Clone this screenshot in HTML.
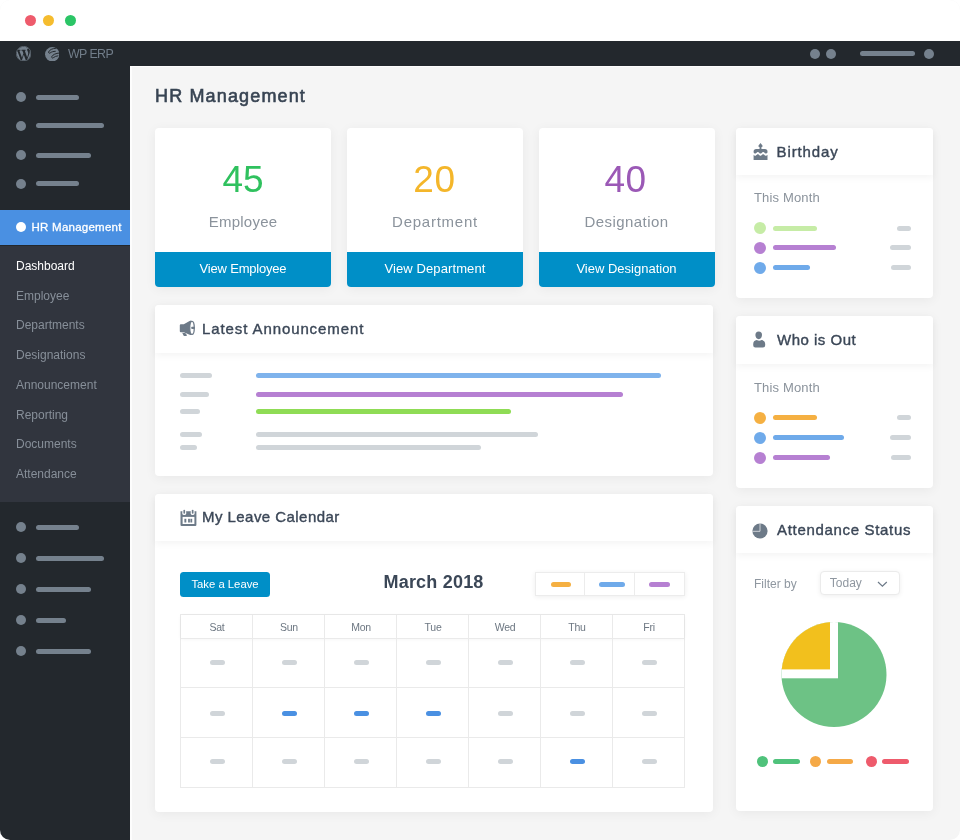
<!DOCTYPE html>
<html lang="en">
<head>
<meta charset="utf-8">
<title>WP ERP - HR Management</title>
<style>
*{box-sizing:border-box;margin:0;padding:0}
html,body{width:960px;height:840px;overflow:hidden;background:#fff}
body{font-family:"Liberation Sans",sans-serif;color:#3b4757;position:relative}
.abs{position:absolute}
#win{position:absolute;left:0;top:0;width:960px;height:840px;background:#f5f5f5;border-radius:10px;overflow:hidden}
#titlebar{position:absolute;left:0;top:0;width:960px;height:41px;background:#fff}
.tl{position:absolute;top:14.5px;width:11px;height:11px;border-radius:50%}
#topbar{position:absolute;left:0;top:41px;width:960px;height:25px;background:#23282d}
#side{position:absolute;left:0;top:66px;width:130px;height:774px;background:#23282d}
#submenu{position:absolute;left:0;top:179.8px;width:130px;height:256.2px;background:#31353e}
#hrbar{position:absolute;left:0;top:143.5px;width:130px;height:35.2px;background:#4a90e2}
.dot{position:absolute;width:10px;height:10px;border-radius:50%;background:#75818d;left:16px}
.ln{position:absolute;height:5px;border-radius:3px;background:#75818d;left:36px}
.mi{position:absolute;left:16px;font-size:12px;color:#878f99;white-space:nowrap;line-height:14px}
.card{position:absolute;background:#fff;border-radius:4px;box-shadow:0 2px 12px rgba(0,0,0,.055)}
.chead{position:absolute;left:0;top:0;width:100%;background:#fff;border-radius:4px 4px 0 0;box-shadow:0 3px 7px rgba(0,0,0,.045)}
.ctitle{position:absolute;font-size:15px;font-weight:normal;-webkit-text-stroke:.38px currentColor;letter-spacing:.55px;color:#3b4757;white-space:nowrap;line-height:18px}
.stat .num{position:absolute;left:0;width:100%;text-align:center;top:31.5px;font-size:37px;line-height:40px}
.stat .lbl{position:absolute;left:0;width:100%;text-align:center;top:85px;font-size:15px;line-height:18px;color:#8b939c}
.stat .btn{position:absolute;left:0;bottom:0;width:100%;height:35.5px;background:#008fc7;color:#fff;font-size:13px;line-height:33.5px;text-align:center;border-radius:0 0 4px 4px}
.sb{font-weight:normal;-webkit-text-stroke:.4px currentColor}
.pill{position:absolute;height:5px;border-radius:3px}
.g{background:#d0d5d9}
.sub{position:absolute;font-size:13px;color:#8b939c;line-height:16px;white-space:nowrap;letter-spacing:.15px}
.cdot{position:absolute;width:12px;height:12px;border-radius:50%}
#cal{position:absolute;left:25px;top:120px;width:505px;height:173.6px;border:1px solid #eaeaea}
#cal .v{position:absolute;top:0;width:1px;height:100%;background:#eaeaea}
#cal .h{position:absolute;left:0;height:1px;width:100%;background:#eaeaea}
#cal .d{position:absolute;top:0;width:72px;height:23px;line-height:24px;text-align:center;font-size:10.5px;letter-spacing:-.25px;color:#6d7782}
#cal .p{position:absolute;width:15px;height:5px;border-radius:3px;background:#d0d5d9}
#cal .p.b{background:#4a90e2}
</style>
</head>
<body>
<div id="win">
  <div id="titlebar">
    <div class="tl" style="left:24.5px;background:#ee5b6c"></div>
    <div class="tl" style="left:43.1px;background:#f5bc2e"></div>
    <div class="tl" style="left:64.5px;background:#2bc566"></div>
  </div>
  <div id="topbar">
    <svg class="abs" style="left:15.9px;top:4.7px" width="15.4" height="15.4" viewBox="0 0 20 20"><circle cx="10" cy="10" r="9.6" fill="none" stroke="#75818d" stroke-width=".8"/><path fill="#75818d" d="M7.78 15.37L4.37 6.22c.55-.02 1.17-.08 1.17-.08.5-.06.44-1.13-.06-1.11 0 0-1.45.11-2.37.11-.18 0-.37 0-.58-.01C4.12 2.69 6.87 1.11 10 1.11c2.33 0 4.45.87 6.05 2.34-.68-.11-1.65.39-1.65 1.58 0 .74.45 1.36.9 2.1.35.61.55 1.36.55 2.46 0 1.49-1.4 5-1.4 5l-3.03-8.37c.54-.02.82-.17.82-.17.5-.05.44-1.25-.06-1.22 0 0-1.44.12-2.38.12-.87 0-2.33-.12-2.33-.12-.5-.03-.56 1.2-.06 1.22l.92.08 1.26 3.41zM17.41 10c.24-.64.74-1.87.43-4.25.7 1.29 1.05 2.71 1.05 4.25 0 3.29-1.73 6.24-4.4 7.78.97-2.59 1.94-5.2 2.92-7.78zM6.1 18.09C3.12 16.65 1.11 13.53 1.11 10c0-1.3.23-2.48.72-3.59C3.25 10.3 4.67 14.2 6.1 18.09zm4.03-6.63l2.58 6.98c-.86.29-1.76.45-2.71.45-.79 0-1.57-.11-2.29-.33.81-2.38 1.62-4.74 2.42-7.1z"/></svg>
    <svg class="abs" style="left:44.7px;top:5.7px" width="14.5" height="14.5" viewBox="0 0 14.5 14.5">
      <circle cx="7.25" cy="7.25" r="7.2" fill="#75818d"/>
      <path d="M10.6 1.3 C7.5 1.4 4.4 2.8 3.6 5 C3.4 6.2 4.6 6.5 5.2 5.9 C6.5 4.8 8.3 4.4 10.3 4.3" fill="none" stroke="#23282d" stroke-width="1" stroke-linecap="round"/>
      <path d="M14.2 6 C11 6.3 7.6 7.6 6.7 9.8 C6.5 11 7.7 11.3 8.3 10.7 C9.6 9.6 11.2 9 13 8.8" fill="none" stroke="#23282d" stroke-width="1" stroke-linecap="round"/>
    </svg>
    <div class="abs" style="left:68px;top:5.5px;font-size:12.4px;letter-spacing:-.6px;line-height:15px;color:#717d89;white-space:nowrap">WP ERP</div>
    <div class="dot" style="left:809.5px;top:7.5px"></div>
    <div class="dot" style="left:825.5px;top:7.5px"></div>
    <div class="ln" style="left:860px;top:10px;width:55px"></div>
    <div class="dot" style="left:924px;top:7.5px"></div>
  </div>

  <div class="abs" style="left:130px;top:66px;width:830px;height:774px;border-left:2px solid #fdfdfd;border-top:1px solid #fdfdfd"></div>
  <div id="side">
    <div class="dot" style="top:26px"></div><div class="ln" style="top:28.5px;width:43px"></div>
    <div class="dot" style="top:54.5px"></div><div class="ln" style="top:57px;width:68px"></div>
    <div class="dot" style="top:84px"></div><div class="ln" style="top:86.5px;width:55px"></div>
    <div class="dot" style="top:112.5px"></div><div class="ln" style="top:115px;width:43px"></div>
    <div id="hrbar">
      <div class="dot" style="top:12.5px;background:#fff"></div>
      <div class="abs" style="left:31.5px;top:10.2px;font-size:11.5px;font-weight:normal;-webkit-text-stroke:.3px #fff;letter-spacing:.25px;color:#fff;line-height:14px;white-space:nowrap">HR Management</div>
    </div>
    <div id="submenu">
      <div class="mi" style="top:13px;color:#fff">Dashboard</div>
      <div class="mi" style="top:43px">Employee</div>
      <div class="mi" style="top:72.5px">Departments</div>
      <div class="mi" style="top:102px">Designations</div>
      <div class="mi" style="top:132px">Announcement</div>
      <div class="mi" style="top:162px">Reporting</div>
      <div class="mi" style="top:191.5px">Documents</div>
      <div class="mi" style="top:221px">Attendance</div>
    </div>
    <div class="dot" style="top:456px"></div><div class="ln" style="top:458.5px;width:43px"></div>
    <div class="dot" style="top:487px"></div><div class="ln" style="top:489.5px;width:68px"></div>
    <div class="dot" style="top:518px"></div><div class="ln" style="top:520.5px;width:55px"></div>
    <div class="dot" style="top:549px"></div><div class="ln" style="top:551.5px;width:30px"></div>
    <div class="dot" style="top:580px"></div><div class="ln" style="top:582.5px;width:55px"></div>
  </div>

  <div class="abs" style="left:155px;top:84.7px;font-size:18px;font-weight:normal;-webkit-text-stroke:.6px #384453;letter-spacing:1.15px;line-height:22px;color:#384453;white-space:nowrap">HR Management</div>

  <div class="card stat" style="left:155px;top:128px;width:176px;height:159px">
    <div class="num" style="color:#2fc15e">45</div><div class="lbl" style="letter-spacing:.25px">Employee</div><div class="btn" style="letter-spacing:-.2px">View Employee</div>
  </div>
  <div class="card stat" style="left:347px;top:128px;width:176px;height:159px">
    <div class="num" style="color:#f4b62a;left:-.6px;letter-spacing:.6px">20</div><div class="lbl" style="letter-spacing:.75px">Department</div><div class="btn" style="letter-spacing:.1px">View Department</div>
  </div>
  <div class="card stat" style="left:538.5px;top:128px;width:176px;height:159px">
    <div class="num" style="color:#9b59b6;left:-1px;letter-spacing:.5px">40</div><div class="lbl" style="letter-spacing:.45px">Designation</div><div class="btn">View Designation</div>
  </div>

  <!-- Latest Announcement -->
  <div class="card" style="left:155px;top:305px;width:558px;height:171px">
    <div class="chead" style="height:47.5px"></div>
    <svg class="abs" style="left:24px;top:15px" width="17" height="17" viewBox="0 0 17 17">
      <path d="M0.8 5.2 Q0.8 4.2 1.8 4.2 L4.8 4.2 L10.6 0.9 Q12.6 0.1 12.8 1.2 L12.8 14.4 Q12.6 15.5 10.6 14.8 L4.8 12.2 L1.8 12.2 Q0.8 12.2 0.8 11.2 Z" fill="#6d7a88"/>
      <ellipse cx="13" cy="7.9" rx="2.25" ry="6.5" fill="#fff" stroke="#6d7a88" stroke-width="1.3"/>
      <rect x="12.4" y="6.8" width="3.3" height="2.2" rx=".5" fill="#6d7a88"/>
      <path d="M3.2 12.8 L6.2 13.1 L7.9 15.1 Q8 16 7.1 16 L5.3 16 Q4.6 16 4.4 15.3 Z" fill="#6d7a88"/>
    </svg>
    <div class="ctitle" style="left:47px;top:14.5px;letter-spacing:.9px">Latest Announcement</div>
    <div class="pill g" style="left:25px;top:68.1px;width:32px"></div>
    <div class="pill g" style="left:25px;top:86.6px;width:29px"></div>
    <div class="pill g" style="left:25px;top:104.1px;width:20px"></div>
    <div class="pill g" style="left:25px;top:126.6px;width:22px"></div>
    <div class="pill g" style="left:25px;top:140.1px;width:17px"></div>
    <div class="pill" style="left:100.5px;top:68.1px;width:405px;background:#7fb3ec"></div>
    <div class="pill" style="left:100.5px;top:86.6px;width:367.5px;background:#b680d2"></div>
    <div class="pill" style="left:100.5px;top:104.1px;width:255px;background:#8fdc55"></div>
    <div class="pill g" style="left:100.5px;top:126.6px;width:282.5px"></div>
    <div class="pill g" style="left:100.5px;top:140.1px;width:225.5px"></div>
  </div>

  <!-- My Leave Calendar -->
  <div class="card" style="left:155px;top:494px;width:558px;height:318px">
    <div class="chead" style="height:47px"></div>
    <svg class="abs" style="left:24.5px;top:15px" width="17" height="18" viewBox="0 0 17 18">
      <path d="M0.5 2.3 L16.4 2.3 L16.4 16 Q16.4 17 15.4 17 L1.5 17 Q0.5 17 0.5 16 Z" fill="#6d7a88"/>
      <rect x="2.6" y="7.9" width="11.8" height="7.1" fill="#fff"/>
      <rect x="2.3" y="1" width="3.9" height="5.1" rx="1.9" fill="#fff"/>
      <rect x="10.7" y="1" width="3.9" height="5.1" rx="1.9" fill="#fff"/>
      <rect x="2.3" y="0" width="3.9" height="2.3" fill="#fff"/>
      <rect x="10.7" y="0" width="3.9" height="2.3" fill="#fff"/>
      <rect x="3.4" y="0.7" width="1.7" height="4.1" rx=".8" fill="#6d7a88"/>
      <rect x="11.8" y="0.7" width="1.7" height="4.1" rx=".8" fill="#6d7a88"/>
      <rect x="4.4" y="9.8" width="1.9" height="3.7" fill="#6d7a88"/>
      <rect x="8.1" y="9.8" width="1.8" height="3.7" fill="#6d7a88"/>
      <rect x="10.4" y="9.8" width="1.8" height="3.7" fill="#6d7a88"/>
    </svg>
    <div class="ctitle" style="left:47px;top:14px;letter-spacing:.45px">My Leave Calendar</div>

    <div class="abs" style="left:25px;top:78px;width:90px;height:24.5px;border-radius:3.5px;background:#008fc7;color:#fff;font-size:11.3px;line-height:24.5px;text-align:center;white-space:nowrap">Take a Leave</div>
    <div class="abs" style="left:228.5px;top:77.2px;font-size:18px;font-weight:bold;letter-spacing:.2px;line-height:22px;color:#3b4757;white-space:nowrap">March 2018</div>

    <div class="abs" style="left:379.6px;top:78px;width:150px;height:24px;border:1px solid #ececec;background:#fff;box-shadow:0 1px 5px rgba(0,0,0,.07)">
      <div class="abs" style="left:48.4px;top:0;width:1px;height:100%;background:#ececec"></div>
      <div class="abs" style="left:98.4px;top:0;width:1px;height:100%;background:#ececec"></div>
      <div class="pill" style="left:15.4px;top:8.7px;width:20px;background:#f5b042"></div>
      <div class="pill" style="left:63.4px;top:8.7px;width:26px;background:#6faaea"></div>
      <div class="pill" style="left:113.4px;top:8.7px;width:21px;background:#b680d2"></div>
    </div>

    <div id="cal">
      <div class="abs" style="left:0;top:0;width:503px;height:22.5px;box-shadow:0 1px 4px rgba(0,0,0,.05)"></div>
      <div class="v" style="left:71px"></div><div class="v" style="left:143px"></div><div class="v" style="left:215px"></div>
      <div class="v" style="left:287px"></div><div class="v" style="left:359px"></div><div class="v" style="left:431px"></div>
      <div class="h" style="top:22.5px"></div><div class="h" style="top:72px"></div><div class="h" style="top:122px"></div>
      <div class="d" style="left:0">Sat</div><div class="d" style="left:72px">Sun</div><div class="d" style="left:144px">Mon</div>
      <div class="d" style="left:216px">Tue</div><div class="d" style="left:288px">Wed</div><div class="d" style="left:360px">Thu</div><div class="d" style="left:432px">Fri</div>

      <div class="p" style="left:28.5px;top:44.5px"></div><div class="p" style="left:100.5px;top:44.5px"></div><div class="p" style="left:172.5px;top:44.5px"></div>
      <div class="p" style="left:244.5px;top:44.5px"></div><div class="p" style="left:316.5px;top:44.5px"></div><div class="p" style="left:388.5px;top:44.5px"></div><div class="p" style="left:460.5px;top:44.5px"></div>

      <div class="p" style="left:28.5px;top:96px"></div><div class="p b" style="left:100.5px;top:96px"></div><div class="p b" style="left:172.5px;top:96px"></div>
      <div class="p b" style="left:244.5px;top:96px"></div><div class="p" style="left:316.5px;top:96px"></div><div class="p" style="left:388.5px;top:96px"></div><div class="p" style="left:460.5px;top:96px"></div>

      <div class="p" style="left:28.5px;top:144px"></div><div class="p" style="left:100.5px;top:144px"></div><div class="p" style="left:172.5px;top:144px"></div>
      <div class="p" style="left:244.5px;top:144px"></div><div class="p" style="left:316.5px;top:144px"></div><div class="p b" style="left:388.5px;top:144px"></div><div class="p" style="left:460.5px;top:144px"></div>
    </div>
  </div>

  <!-- Birthday -->
  <div class="card" style="left:735.5px;top:128px;width:197px;height:169.5px">
    <div class="chead" style="height:47px"></div>
    <svg class="abs" style="left:17.6px;top:15px" width="15" height="18" viewBox="0 0 15 18">
      <path d="M7.5 0 L9.6 2.7 Q9.8 3.9 8.5 4 L8.4 6.2 L6.6 6.2 L6.5 4 Q5.2 3.9 5.4 2.7 Z" fill="#6d7a88"/>
      <path d="M0.6 8.6 Q0.6 6 3.2 6 L11.9 6 Q14.5 6 14.5 8.6 L14.50 9.51 L14.27 9.72 L14.04 9.94 L13.80 10.15 L13.57 10.33 L13.34 10.47 L13.11 10.56 L12.88 10.60 L12.65 10.58 L12.41 10.50 L12.18 10.37 L11.95 10.19 L11.72 9.99 L11.49 9.78 L11.26 9.56 L11.02 9.37 L10.79 9.20 L10.56 9.08 L10.33 9.01 L10.10 9.00 L9.87 9.05 L9.63 9.16 L9.40 9.31 L9.17 9.49 L8.94 9.70 L8.71 9.92 L8.48 10.13 L8.24 10.31 L8.01 10.46 L7.78 10.56 L7.55 10.60 L7.32 10.58 L7.09 10.51 L6.85 10.38 L6.62 10.21 L6.39 10.01 L6.16 9.80 L5.93 9.58 L5.70 9.38 L5.46 9.22 L5.23 9.09 L5.00 9.02 L4.77 9.00 L4.54 9.04 L4.31 9.14 L4.08 9.29 L3.84 9.48 L3.61 9.68 L3.38 9.90 L3.15 10.11 L2.92 10.30 L2.69 10.45 L2.45 10.55 L2.22 10.60 L1.99 10.59 L1.76 10.52 L1.53 10.40 L1.29 10.23 L1.06 10.03 L0.83 9.82 L0.60 9.60 Z" fill="#6d7a88"/>
      <path d="M0.6 16.9 L14.5 16.9 L14.50 11.71 L14.27 11.92 L14.04 12.14 L13.80 12.35 L13.57 12.53 L13.34 12.67 L13.11 12.76 L12.88 12.80 L12.65 12.78 L12.41 12.70 L12.18 12.57 L11.95 12.39 L11.72 12.19 L11.49 11.98 L11.26 11.76 L11.02 11.57 L10.79 11.40 L10.56 11.28 L10.33 11.21 L10.10 11.20 L9.87 11.25 L9.63 11.36 L9.40 11.51 L9.17 11.69 L8.94 11.90 L8.71 12.12 L8.48 12.33 L8.24 12.51 L8.01 12.66 L7.78 12.76 L7.55 12.80 L7.32 12.78 L7.09 12.71 L6.85 12.58 L6.62 12.41 L6.39 12.21 L6.16 12.00 L5.93 11.78 L5.70 11.58 L5.46 11.42 L5.23 11.29 L5.00 11.22 L4.77 11.20 L4.54 11.24 L4.31 11.34 L4.08 11.49 L3.84 11.68 L3.61 11.88 L3.38 12.10 L3.15 12.31 L2.92 12.50 L2.69 12.65 L2.45 12.75 L2.22 12.80 L1.99 12.79 L1.76 12.72 L1.53 12.60 L1.29 12.43 L1.06 12.23 L0.83 12.02 L0.60 11.80 Z" fill="#6d7a88"/>
    </svg>
    <div class="ctitle" style="left:41px;top:15.3px;letter-spacing:.9px">Birthday</div>
    <div class="sub" style="left:18.5px;top:62px">This Month</div>
    <div class="cdot" style="left:18.5px;top:94px;background:#c6eca6"></div>
    <div class="pill" style="left:37.5px;top:97.5px;width:44px;background:#c6eca6"></div>
    <div class="pill g" style="left:161.5px;top:97.5px;width:13.5px"></div>
    <div class="cdot" style="left:18.5px;top:113.75px;background:#b680d2"></div>
    <div class="pill" style="left:37.5px;top:117.25px;width:63px;background:#b680d2"></div>
    <div class="pill g" style="left:154px;top:117.25px;width:21px"></div>
    <div class="cdot" style="left:18.5px;top:133.75px;background:#6faaea"></div>
    <div class="pill" style="left:37.5px;top:137.25px;width:36.5px;background:#6faaea"></div>
    <div class="pill g" style="left:155.25px;top:137.25px;width:19.75px"></div>
  </div>

  <!-- Who is Out -->
  <div class="card" style="left:735.5px;top:315.5px;width:197px;height:172px">
    <div class="chead" style="height:48px"></div>
    <svg class="abs" style="left:17.3px;top:15px" width="14" height="17" viewBox="0 0 14 17">
      <path d="M5.7 0.5 C7.9 0.5 9 2 9 4 C9 6.2 7.6 8.2 5.7 8.2 C3.8 8.2 2.4 6.2 2.4 4 C2.4 2 3.5 0.5 5.7 0.5 Z" fill="#6d7a88"/>
      <path d="M0.2 13.2 Q0.2 9.6 3.8 9.1 Q6.2 10.3 8.6 9.1 Q12.2 9.6 12.2 13.2 L12.2 14.2 Q12.2 16.5 10 16.5 L2.4 16.5 Q0.2 16.5 0.2 14.2 Z" fill="#6d7a88"/>
    </svg>
    <div class="ctitle" style="left:41.5px;top:15px;letter-spacing:.5px">Who is Out</div>
    <div class="sub" style="left:18.5px;top:64.5px">This Month</div>
    <div class="cdot" style="left:18.5px;top:96px;background:#f5b042"></div>
    <div class="pill" style="left:37.5px;top:99.5px;width:44px;background:#f5b042"></div>
    <div class="pill g" style="left:161.5px;top:99.5px;width:13.5px"></div>
    <div class="cdot" style="left:18.5px;top:116.25px;background:#6faaea"></div>
    <div class="pill" style="left:37.5px;top:119.75px;width:71px;background:#6faaea"></div>
    <div class="pill g" style="left:154px;top:119.75px;width:21px"></div>
    <div class="cdot" style="left:18.5px;top:136px;background:#b680d2"></div>
    <div class="pill" style="left:37.5px;top:139.5px;width:56.5px;background:#b680d2"></div>
    <div class="pill g" style="left:155.25px;top:139.5px;width:19.75px"></div>
  </div>

  <!-- Attendance Status -->
  <div class="card" style="left:735.5px;top:506px;width:197px;height:305px">
    <div class="chead" style="height:47px"></div>
    <svg class="abs" style="left:16.9px;top:17.2px" width="16" height="16" viewBox="0 0 16 16">
      <circle cx="8" cy="8" r="7.6" fill="#6d7a88"/>
      <path d="M8 0.4 L8 8.3 L0.4 8.3" fill="none" stroke="#e8ebee" stroke-width=".8"/>
    </svg>
    <div class="ctitle" style="left:41.5px;top:15px;letter-spacing:.68px">Attendance Status</div>
    <div class="abs" style="left:18.5px;top:70.5px;font-size:12px;line-height:14px;color:#8f97a0;white-space:nowrap">Filter by</div>
    <div class="abs" style="left:84.6px;top:65px;width:80px;height:24px;border:1px solid #ebebeb;border-radius:4px;background:#fff;box-shadow:0 1px 5px rgba(0,0,0,.07)">
      <div class="abs" style="left:8.7px;top:4px;font-size:12px;line-height:14px;color:#8f97a0">Today</div>
      <svg class="abs" style="left:56.3px;top:8.8px" width="11" height="7" viewBox="0 0 11 7"><path d="M1 1 L5.4 5.2 L9.8 1" fill="none" stroke="#6d7a88" stroke-width="1.2"/></svg>
    </div>
    <svg class="abs" style="left:40px;top:110px" width="116" height="116" viewBox="776 616 116 116">
      <defs><clipPath id="pc"><circle cx="834" cy="674.4" r="52.5"/></clipPath></defs>
      <g clip-path="url(#pc)">
        <rect x="776" y="616" width="116" height="116" fill="#6dc285"/>
        <rect x="776" y="616" width="62" height="62.3" fill="#fff"/>
        <rect x="776" y="616" width="54" height="53.4" fill="#f2c01d"/>
      </g>
    </svg>
    <div class="cdot" style="left:21.25px;top:249.5px;width:11px;height:11px;background:#4fc27b"></div>
    <div class="pill" style="left:37.2px;top:252.5px;width:27px;background:#4fc27b"></div>
    <div class="cdot" style="left:74.5px;top:249.5px;width:11px;height:11px;background:#f5a947"></div>
    <div class="pill" style="left:91px;top:252.5px;width:26.5px;background:#f5a947"></div>
    <div class="cdot" style="left:130.5px;top:249.5px;width:11px;height:11px;background:#ee5b6c"></div>
    <div class="pill" style="left:146.5px;top:252.5px;width:27px;background:#ee5b6c"></div>
  </div>
</div>
</body>
</html>
